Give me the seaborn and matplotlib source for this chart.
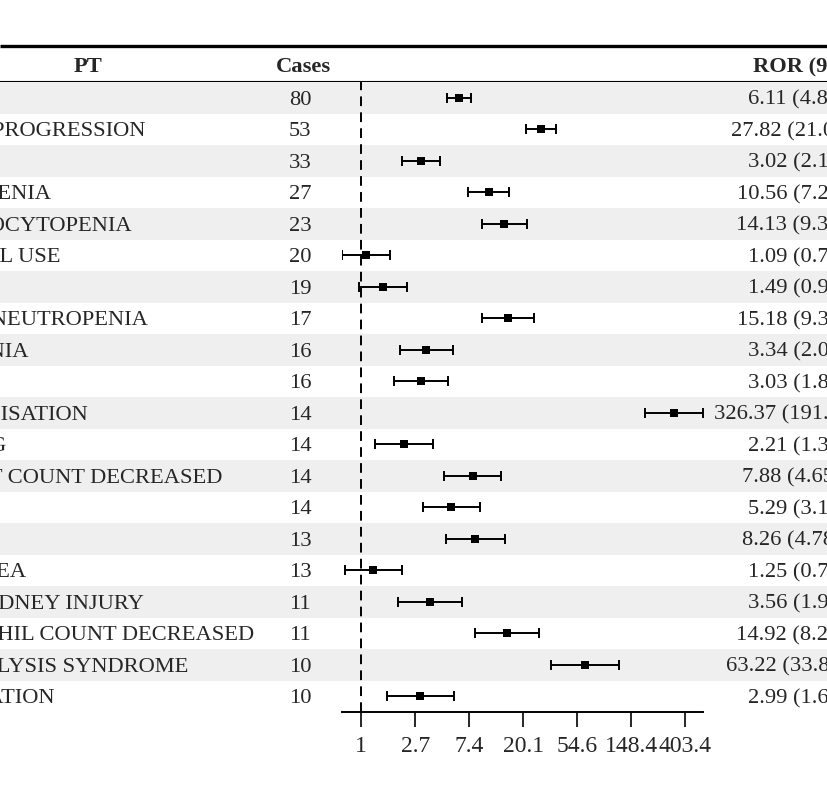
import numpy as np
import pandas as pd
import matplotlib
matplotlib.use('Agg')
import matplotlib.pyplot as plt
import seaborn as sns

# data
PT = ['DEATH', 'DISEASE PROGRESSION', 'SEPSIS', 'NEUTROPENIA', 'THROMBOCYTOPENIA',
      'OFF LABEL USE', 'FATIGUE', 'FEBRILE NEUTROPENIA', 'PNEUMONIA', 'ANAEMIA',
      'HOSPITALISATION', 'VOMITING', 'PLATELET COUNT DECREASED', 'PYREXIA', 'NAUSEA',
      'DIARRHOEA', 'ACUTE KIDNEY INJURY', 'NEUTROPHIL COUNT DECREASED',
      'TUMOUR LYSIS SYNDROME', 'DEHYDRATION']
Cases = [80, 53, 33, 27, 23, 20, 19, 17, 16, 16, 14, 14, 14, 14, 13, 13, 11, 11, 10, 10]
ROR = [6.11, 27.82, 3.02, 10.56, 14.13, 1.09, 1.49, 15.18, 3.34, 3.03,
       326.37, 2.21, 7.88, 5.29, 8.26, 1.25, 3.56, 14.92, 63.22, 2.99]
Lower = [4.86, 21.06, 2.14, 7.21, 9.35, 0.70, 0.95, 9.38, 2.04, 1.84,
         191.52, 1.30, 4.65, 3.12, 4.78, 0.74, 1.97, 8.24, 33.85, 1.61]
Upper = [7.68, 36.75, 4.26, 15.47, 21.36, 1.70, 2.34, 24.57, 5.47, 4.99,
         556.18, 3.76, 13.35, 8.97, 14.27, 2.11, 6.43, 27.01, 118.08, 5.55]
tick_vals = np.exp(np.arange(7))
tick_labels = ['1', '2.7', '7.4', '20.1', '54.6', '148.4', '403.4']

df = pd.DataFrame({'PT': PT, 'Cases': Cases, 'ROR': ROR, 'Lower': Lower, 'Upper': Upper})
df['row'] = np.arange(len(df))
df['label'] = [f"{r:.2f} ({l:.2f}-{u:.2f})" for r, l, u in zip(ROR, Lower, Upper)]

sns.set_theme(style='white')
plt.rcParams['font.family'] = ['Liberation Serif', 'DejaVu Serif']
fs = 16.2

W, H = 828, 811
fig = plt.figure(figsize=(W / 100, H / 100), dpi=100)

# pixel layout
top_line, head_line, rows_bottom = 46, 82, 712
ax_left, ax_right = 342, 703
n = len(df)

# background (pixel coords)
ax_bg = fig.add_axes([0, 0, 1, 1])
ax_bg.set_xlim(0, W)
ax_bg.set_ylim(H, 0)
ax_bg.axis('off')
ax_bg.plot([0, W], [top_line, top_line], color='black', lw=2.4, solid_capstyle='butt')
ax_bg.plot([0, W], [head_line, head_line], color='black', lw=1.5, solid_capstyle='butt')
head_y = (top_line + head_line) / 2 + 3
ax_bg.text(88, head_y, 'PT', ha='center', va='center', fontsize=fs, fontweight='bold')
ax_bg.text(303, head_y, 'Cases', ha='center', va='center', fontsize=fs, fontweight='bold')
ax_bg.text(826, head_y, 'ROR (95% CI)', ha='center', va='center', fontsize=fs, fontweight='bold')

# table area, rows in data coords
bottom = (H - rows_bottom) / H
height = (rows_bottom - head_line) / H
ax_tab = fig.add_axes([0, bottom, 1, height])
ax_tab.set_xlim(0, W)
ax_tab.set_ylim(n - 0.5, -0.5)
ax_tab.axis('off')
stripe = df[df['row'] % 2 == 0]
ax_tab.barh(stripe['row'], W, height=1, left=0, color='#efefef', edgecolor='none')
for _, r in df.iterrows():
    y = r['row'] + 0.08
    ax_tab.text(-106, y, r['PT'], ha='left', va='center', fontsize=fs, clip_on=False)
    ax_tab.text(300, y, str(r['Cases']), ha='center', va='center', fontsize=fs)
    ax_tab.text(821, y, r['label'], ha='center', va='center', fontsize=fs, clip_on=False)

# forest panel
ax = fig.add_axes([ax_left / W, bottom, (ax_right - ax_left) / W, height])
ax.patch.set_alpha(0)
ax.set_xscale('log')
ax.errorbar(df['ROR'], df['row'],
            xerr=[df['ROR'] - df['Lower'], df['Upper'] - df['ROR']],
            fmt='none', ecolor='black', elinewidth=1.4, capsize=3.4, capthick=1.4)
sns.scatterplot(data=df, x='ROR', y='row', marker='s', s=30, color='black',
                edgecolor='black', linewidth=0, ax=ax, zorder=3, legend=False)
ax.axvline(1, color='black', lw=1.4, linestyle=(0, (5, 3.2)), zorder=1)
ax.set_xlim(np.exp(-0.357), np.exp(6.328))
ax.set_ylim(n - 0.5, -0.5)
ax.set_yticks([])
ax.set_xticks(tick_vals)
ax.set_xticklabels(tick_labels, fontsize=fs + 0.8)
ax.xaxis.set_minor_locator(matplotlib.ticker.NullLocator())
ax.tick_params(axis='x', direction='out', length=10.5, width=1.4, pad=7, bottom=True)
ax.set_xlabel('')
ax.set_ylabel('')
for s in ['top', 'left', 'right']:
    ax.spines[s].set_visible(False)
ax.spines['bottom'].set_linewidth(1.4)
ax.spines['bottom'].set_color('black')

fig.savefig('out.png', dpi=100, facecolor='white')
